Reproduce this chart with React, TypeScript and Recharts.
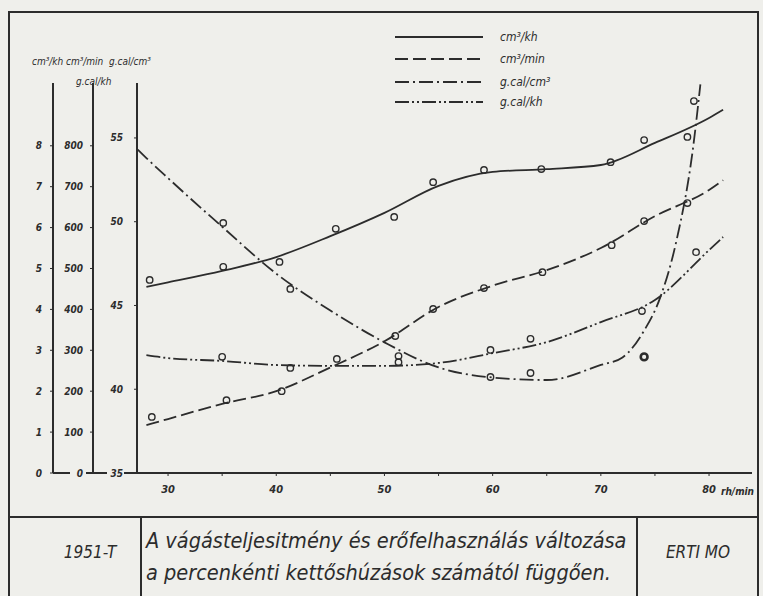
import React from 'react';
import { ComposedChart, Line, Scatter, XAxis, YAxis, Legend } from 'recharts';

// ---- data ----
const speedTicks = [30, 35, 40, 45, 50, 55, 60, 65, 70, 75, 80];
const volumeTicks = [0, 1, 2, 3, 4, 5, 6, 7, 8];
const rateTicks = [0, 100, 200, 300, 400, 500, 600, 700, 800];
const energyTicks = [35, 40, 45, 50, 55];

// cm3/kh (solid)
const volCurveX = [28, 30, 35, 40, 45, 50, 55, 60, 65, 70, 75, 80, 81.3];
const volCurveY = [4.55, 4.66, 4.94, 5.28, 5.79, 6.36, 7.02, 7.36, 7.43, 7.53, 8.07, 8.68, 8.88];
const volPtsX = [28.3, 35.1, 40.3, 45.5, 50.9, 54.5, 59.2, 64.5, 70.9, 74.0];
const volPtsY = [4.72, 5.04, 5.16, 5.97, 6.26, 7.11, 7.41, 7.43, 7.6, 8.14];

// cm3/min (dashed)
const rateCurveX = [28, 30, 35, 40, 45, 50, 55, 60, 65, 70, 75, 80, 81.3];
const rateCurveY = [117, 132, 169, 200, 258, 322, 406, 458, 496, 550, 628, 692, 716];
const ratePtsX = [28.5, 35.4, 40.5, 45.6, 51.0, 54.5, 59.2, 64.6, 71.0, 74.0, 78.0];
const ratePtsY = [137, 178, 200, 279, 335, 401, 452, 491, 557, 616, 660];

// g.cal/cm3 (dash-dot)
const energyCurveX = [27.2, 28, 30, 35, 40, 45, 50, 55, 60, 65, 70, 72, 74, 75.5, 77, 78.5, 79.2];
const energyCurveY = [54.3, 53.8, 52.6, 49.7, 46.9, 44.7, 42.8, 41.3, 40.7, 40.55, 41.45, 41.9, 43.5, 45.5, 48.9, 54.3, 58.2];
const energyPtsX = [35.1, 41.3, 51.3, 59.8, 63.5, 78.0, 78.6];
const energyPtsY = [49.93, 45.99, 41.98, 40.73, 40.97, 55.06, 57.2];
const energyBoldX = [74.0];
const energyBoldY = [41.93];

// g.cal/kh (dash-dot-dot)
const heatCurveX = [28, 30, 35, 40, 45, 50, 55, 60, 65, 70, 75, 80, 81.3];
const heatCurveY = [288, 281, 274, 264, 262, 262, 269, 293, 320, 369, 423, 545, 577];
const heatPtsX = [35.0, 41.3, 51.3, 59.8, 63.5, 73.8, 78.8];
const heatPtsY = [284, 257, 271, 301, 328, 396, 540];

const seriesNames = ['cm³/kh', 'cm³/min', 'g.cal/cm³', 'g.cal/kh'];
const seriesDashes = ['', '13 5', '14 4 2 4', '14 3 2 3 2 3'];

const zip = (xs: number[], ys: number[]) => xs.map((x, i) => ({ x, y: ys[i] }));

const INK = '#2c2c2c';
const FONT = '"DejaVu Sans Condensed", "Liberation Sans Narrow", sans-serif';

const tickStyle = { fill: INK, fontSize: 10, fontStyle: 'italic', fontWeight: 'bold', fontFamily: FONT };

const OpenDot = (p: any) => (
  <circle cx={p.cx} cy={p.cy} r={3.2} fill="none" stroke={INK} strokeWidth={1.4} />
);
const BoldDot = (p: any) => (
  <circle cx={p.cx} cy={p.cy} r={3.4} fill="none" stroke={INK} strokeWidth={2.6} />
);

const LegendBox = () => (
  <svg width={200} height={90}>
    {seriesNames.map((n, i) => {
      const ys = [12, 34, 57, 77];
      return (
        <g key={n}>
          <line x1={5} x2={93} y1={ys[i]} y2={ys[i]} stroke={INK} strokeWidth={2} strokeDasharray={seriesDashes[i] || undefined} />
          <text x={110} y={ys[i] + 4} fontSize={12} fontStyle="italic" fontFamily={FONT} fill={INK}>{n}</text>
        </g>
      );
    })}
  </svg>
);

const abs = (l: number, t: number, extra: any = {}) => ({ position: 'absolute' as const, left: l, top: t, ...extra });
const hseg = (l: number, r: number, t: number) => (
  <div style={abs(l, t, { width: r - l, height: 2, background: INK })} />
);

export default function App() {
  return (
    <div style={{ position: 'absolute', left: 0, top: 0, width: 763, height: 596, background: '#efefeb', overflow: 'hidden', fontFamily: FONT, fontStyle: 'italic', color: INK }}>
      {/* frame */}
      <div style={abs(8, 11, { width: 751, height: 620, border: `2px solid ${INK}`, boxSizing: 'border-box' })} />
      <div style={abs(8, 516, { width: 751, height: 2, background: INK })} />
      <div style={abs(140, 516, { width: 2, height: 90, background: INK })} />
      <div style={abs(636, 516, { width: 2, height: 90, background: INK })} />

      <ComposedChart width={763} height={510} margin={{ top: 83, right: 11, bottom: 7, left: 13 }} style={{ position: 'absolute', left: 0, top: 0 }}>
        <XAxis dataKey="x" type="number" domain={[27.13, 83.97]} allowDataOverflow ticks={speedTicks}
          tickFormatter={(v: number) => (v % 10 === 0 ? String(v) : '')} interval={0} height={30}
          tickSize={3} tickMargin={9} axisLine={{ stroke: INK, strokeWidth: 2 }} tickLine={{ stroke: INK }}
          tick={{ ...tickStyle, fontSize: 11 }} />
        <YAxis yAxisId="e" dataKey="y" type="number" domain={[35, 58.28]} allowDataOverflow ticks={energyTicks} interval={0}
          width={44} tickSize={3} tickMargin={11} axisLine={{ stroke: INK, strokeWidth: 2 }} tickLine={{ stroke: INK }} tick={tickStyle} />
        <YAxis yAxisId="r" dataKey="y" type="number" domain={[0, 953.5]} allowDataOverflow ticks={rateTicks} interval={0}
          width={40} tickSize={3} tickMargin={7} axisLine={{ stroke: INK, strokeWidth: 2 }} tickLine={{ stroke: INK }} tick={tickStyle} />
        <YAxis yAxisId="v" dataKey="y" type="number" domain={[0, 9.535]} allowDataOverflow ticks={volumeTicks} interval={0}
          width={40} tickSize={3} tickMargin={8} axisLine={{ stroke: INK, strokeWidth: 2 }} tickLine={{ stroke: INK }} tick={tickStyle} />

        <Line yAxisId="v" data={zip(volCurveX, volCurveY)} dataKey="y" type="monotone" stroke={INK} strokeWidth={1.8} dot={false} isAnimationActive={false} name={seriesNames[0]} />
        <Line yAxisId="r" data={zip(rateCurveX, rateCurveY)} dataKey="y" type="monotone" stroke={INK} strokeWidth={1.8} strokeDasharray={seriesDashes[1]} dot={false} isAnimationActive={false} name={seriesNames[1]} />
        <Line yAxisId="e" data={zip(energyCurveX, energyCurveY)} dataKey="y" type="monotone" stroke={INK} strokeWidth={1.8} strokeDasharray={seriesDashes[2]} dot={false} isAnimationActive={false} name={seriesNames[2]} />
        <Line yAxisId="r" data={zip(heatCurveX, heatCurveY)} dataKey="y" type="monotone" stroke={INK} strokeWidth={1.8} strokeDasharray={seriesDashes[3]} dot={false} isAnimationActive={false} name={seriesNames[3]} />

        <Scatter yAxisId="v" data={zip(volPtsX, volPtsY)} dataKey="y" shape={OpenDot} isAnimationActive={false} />
        <Scatter yAxisId="r" data={zip(ratePtsX, ratePtsY)} dataKey="y" shape={OpenDot} isAnimationActive={false} />
        <Scatter yAxisId="e" data={zip(energyPtsX, energyPtsY)} dataKey="y" shape={OpenDot} isAnimationActive={false} />
        <Scatter yAxisId="e" data={zip(energyBoldX, energyBoldY)} dataKey="y" shape={BoldDot} isAnimationActive={false} />
        <Scatter yAxisId="r" data={zip(heatPtsX, heatPtsY)} dataKey="y" shape={OpenDot} isAnimationActive={false} />

        <Legend layout="vertical" align="center" verticalAlign="middle"
          wrapperStyle={{ position: 'absolute', left: 390, top: 25, width: 200, height: 90 }}
          content={() => <LegendBox />} />
      </ComposedChart>

      {/* bottom connectors between the stacked axes */}
      {hseg(53, 70, 472)}
      {hseg(86, 107, 472)}
      {hseg(124, 137, 472)}

      {/* axis headers */}
      <div style={abs(32, 56, { fontSize: 10, whiteSpace: 'nowrap' })}>cm³/kh</div>
      <div style={abs(66, 56, { fontSize: 10, whiteSpace: 'nowrap' })}>cm³/min</div>
      <div style={abs(109, 56, { fontSize: 10, whiteSpace: 'nowrap' })}>g.cal/cm³</div>
      <div style={abs(76, 76, { fontSize: 10, whiteSpace: 'nowrap' })}>g.cal/kh</div>
      <div style={abs(721, 486, { fontSize: 10, whiteSpace: 'nowrap', fontWeight: 'bold' })}>rh/min</div>

      {/* caption */}
      <div style={abs(30, 542, { width: 120, textAlign: 'center', fontSize: 17 })}>1951-T</div>
      <div style={abs(146, 525, { fontSize: 21.5, whiteSpace: 'nowrap', lineHeight: '32px' })}>
        A vágásteljesitmény és erőfelhasználás változása<br />a percenkénti kettőshúzások számától függően.
      </div>
      <div style={abs(638, 542, { width: 120, textAlign: 'center', fontSize: 17 })}>ERTI MO</div>
    </div>
  );
}
